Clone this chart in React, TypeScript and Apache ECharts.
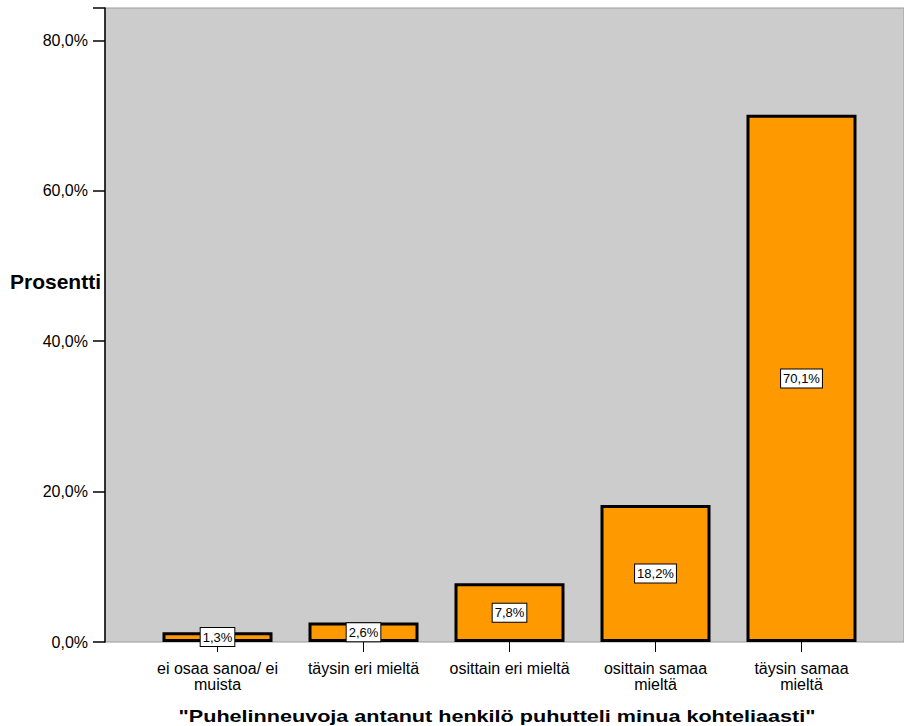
import React, { useEffect, useRef } from "react";
import * as echarts from "echarts";

const categories = ["ei osaa sanoa/ ei\nmuista", "täysin eri mieltä", "osittain eri mieltä", "osittain samaa\nmieltä", "täysin samaa\nmieltä"];
const percents = [1.3, 2.6, 7.8, 18.2, 70.1];
const yTicks = [0, 20, 40, 60, 80];
const yName = "Prosentti";
const xTitle = "\"Puhelinneuvoja antanut henkilö puhutteli minua kohteliaasti\"";

const FONT = "Liberation Sans, Arial, sans-serif";
const Y_MAX = 84.3;

export default function App() {
  const ref = useRef<HTMLDivElement>(null);
  useEffect(() => {
    if (!ref.current) return;
    const chart = echarts.init(ref.current, null, { renderer: "svg" });
    const fmt = (v: number) => v.toFixed(1).replace(".", ",") + "%";
    chart.setOption({
      animation: false,
      textStyle: { fontFamily: FONT },
      grid: [
        { left: 105, right: 0, top: 8, bottom: 84, show: true, backgroundColor: "#cccccc", borderColor: "#9a9a9a", borderWidth: 1 },
        { left: 144.5, right: 29.5, top: 8, bottom: 84 },
      ],
      xAxis: [
        { type: "value", gridIndex: 0, show: false, min: 0, max: 1 },
        {
          type: "category",
          gridIndex: 1,
          data: categories,
          boundaryGap: true,
          axisLine: { show: false },
          axisTick: { show: true, alignWithLabel: true, length: 10, lineStyle: { color: "#000", width: 1 } },
          axisLabel: { color: "#000", fontSize: 16, fontFamily: FONT, margin: 18, lineHeight: 16, interval: 0 },
        },
      ],
      yAxis: [
        {
          type: "value",
          gridIndex: 0,
          min: 0,
          max: Y_MAX,
          interval: 20,
          axisLine: { show: true, lineStyle: { color: "#000", width: 1.5 } },
          axisTick: { show: true, length: 12, lineStyle: { color: "#000", width: 1.5 } },
          axisLabel: { color: "#000", fontSize: 16, fontFamily: FONT, margin: 17, formatter: (v: number) => (yTicks.includes(v) ? fmt(v) : "") },
          splitLine: { show: false },
        },
        { type: "value", gridIndex: 1, min: 0, max: Y_MAX, show: false },
      ],
      series: [
        {
          type: "bar",
          xAxisIndex: 1,
          yAxisIndex: 1,
          data: percents,
          barWidth: 110,
          itemStyle: { color: "#ff9900", borderColor: "#000", borderWidth: 3 },
          label: {
            show: true,
            position: "inside",
            formatter: (p: any) => fmt(p.value),
            color: "#000",
            fontSize: 13,
            fontFamily: FONT,
            backgroundColor: "#fff",
            borderColor: "#000",
            borderWidth: 1,
            padding: [3, 2, 2, 2],
          },
        },
      ],
      graphic: [
        { type: "text", x: 10, y: 281, style: { text: yName, font: `bold 21px ${FONT}`, fill: "#000", align: "left", verticalAlign: "middle" } },
        { type: "text", x: 497, y: 716, scaleX: 1.27, style: { text: xTitle, font: `bold 17px ${FONT}`, fill: "#000", align: "center", verticalAlign: "middle" } },
      ],
    });
    return () => chart.dispose();
  }, []);
  return <div ref={ref} style={{ position: "fixed", left: 0, top: 0, width: 904, height: 726, background: "#fff" }} />;
}
